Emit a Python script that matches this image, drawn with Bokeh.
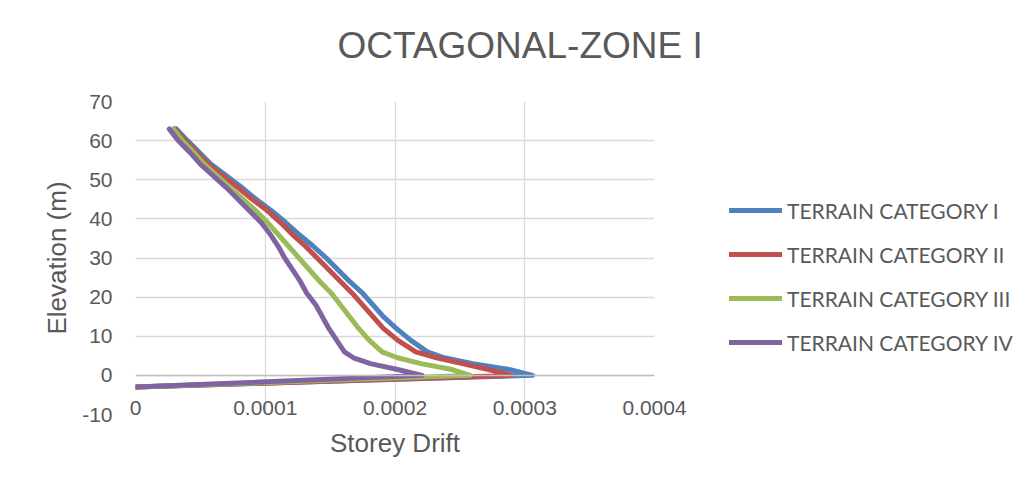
from bokeh.plotting import figure
from bokeh.models import Range1d, Legend, LegendItem, Span, FixedTicker, Title
from bokeh.embed import file_html
from bokeh.resources import INLINE

# ---- data ----
elevation = [-3, 0, 1.5, 3, 4.5, 6, 9, 12, 15, 18, 21, 24, 27, 30, 33, 36, 39, 42, 45, 48, 51, 54, 57, 60, 63]

drift_cat_I = [0, 0.000306, 0.000288, 0.000260, 0.000238, 0.000225, 0.000212, 0.000201, 0.000191, 0.000183,
               0.000175, 0.000165, 0.000156, 0.000147, 0.000137, 0.000126, 0.000116, 0.000105, 0.000093,
               0.000082, 0.000070, 0.000058, 0.000049, 0.000040, 0.0000315]
drift_cat_II = [0, 0.000290, 0.000272, 0.000252, 0.000232, 0.000216, 0.000202, 0.000191, 0.000183, 0.000175,
                0.000167, 0.000158, 0.000149, 0.000140, 0.000131, 0.000121, 0.000112, 0.000102, 0.000090,
                0.000079, 0.000067, 0.000056, 0.000047, 0.000038, 0.000030]
drift_cat_III = [0, 0.000258, 0.000244, 0.000220, 0.000202, 0.000190, 0.000180, 0.000172, 0.000165, 0.000158,
                 0.000151, 0.000142, 0.000134, 0.000126, 0.000118, 0.000110, 0.000102, 0.000093, 0.000083,
                 0.000073, 0.000063, 0.000053, 0.000045, 0.000036, 0.000029]
drift_cat_IV = [0, 0.000221, 0.000202, 0.000181, 0.000168, 0.000161, 0.000155, 0.000149, 0.000144, 0.000139,
                0.000132, 0.000127, 0.000121, 0.000115, 0.000110, 0.000104, 0.000097, 0.000088, 0.000079,
                0.000070, 0.000060, 0.000050, 0.000042, 0.000033, 0.000026]

series_names = ["TERRAIN CATEGORY I", "TERRAIN CATEGORY II", "TERRAIN CATEGORY III", "TERRAIN CATEGORY IV"]
series_values = [drift_cat_I, drift_cat_II, drift_cat_III, drift_cat_IV]
series_colors = ["#4F81BD", "#C0504D", "#9BBB59", "#8064A2"]

x_tick_values = [0, 0.0001, 0.0002, 0.0003, 0.0004]
x_tick_labels = ["0", "0.0001", "0.0002", "0.0003", "0.0004"]
y_tick_values = [-10, 0, 10, 20, 30, 40, 50, 60, 70]
y_tick_labels = ["-10", "0", "10", "20", "30", "40", "50", "60", "70"]

TEXT = "#595959"
FONT = "Liberation Sans"

p = figure(width=1020, height=470, output_backend="svg", toolbar_location=None,
           x_range=Range1d(0, 0.0004), y_range=Range1d(-10, 70),
           min_border_left=135, min_border_right=366, min_border_top=101, min_border_bottom=56)
p.frame_width = 519
p.frame_height = 313
p.outline_line_color = None
p.background_fill_color = "white"
p.border_fill_color = "white"

# main title (outermost) + a thin spacer between it and the plot area
p.title.text = "OCTAGONAL-ZONE I"
p.title.align = "left"
p.title.offset = 202
p.title.standoff = 0
p.title.text_font = FONT
p.title.text_font_size = "37px"
p.title.text_font_style = "normal"
p.title.text_color = TEXT
p.add_layout(Title(text=" ", text_font_size="1px", standoff=33), "above")

# axes
p.xaxis.ticker = FixedTicker(ticks=x_tick_values)
p.xaxis.major_label_overrides = dict(zip(x_tick_values, x_tick_labels))
p.yaxis.ticker = FixedTicker(ticks=y_tick_values)
p.yaxis.major_label_overrides = dict(zip(y_tick_values, y_tick_labels))
for ax in (p.xaxis, p.yaxis):
    ax.axis_line_color = None
    ax.major_tick_line_color = None
    ax.minor_tick_line_color = None
    ax.major_tick_out = 0
    ax.major_tick_in = 0
    ax.major_label_text_font = FONT
    ax.major_label_text_font_size = "21px"
    ax.major_label_text_color = TEXT
    ax.axis_label_text_font = FONT
    ax.axis_label_text_font_size = "26px"
    ax.axis_label_text_font_style = "normal"
    ax.axis_label_text_color = TEXT
p.xaxis.axis_label = "Storey Drift"
p.yaxis.axis_label = "Elevation (m)"
p.xaxis.major_label_standoff = -14
p.xaxis.axis_label_standoff = 10
p.yaxis.major_label_standoff = 23
p.yaxis.axis_label_standoff = 7

p.xgrid.ticker = FixedTicker(ticks=x_tick_values)
p.ygrid.ticker = FixedTicker(ticks=y_tick_values)
for g in (p.xgrid, p.ygrid):
    g.grid_line_color = "#d9d9d9"
    g.grid_line_width = 1.3

p.add_layout(Span(location=0, dimension="width", line_color="#bfbfbf", line_width=1.5))

items = []
for name, vals, col in zip(series_names, series_values, series_colors):
    r = p.line(vals, elevation, line_color=col, line_width=5, line_join="round", line_cap="round")
    items.append(LegendItem(label=name, renderers=[r]))

legend = Legend(items=items, location=(75, 59), orientation="vertical",
                glyph_width=53, glyph_height=26, label_height=26, spacing=18,
                label_standoff=5, padding=0, margin=0,
                border_line_color=None, background_fill_alpha=0,
                label_text_font="Lato", label_text_font_size="21px", label_text_color=TEXT)
p.add_layout(legend, "right")

open("out.html", "w").write(file_html(p, INLINE))
